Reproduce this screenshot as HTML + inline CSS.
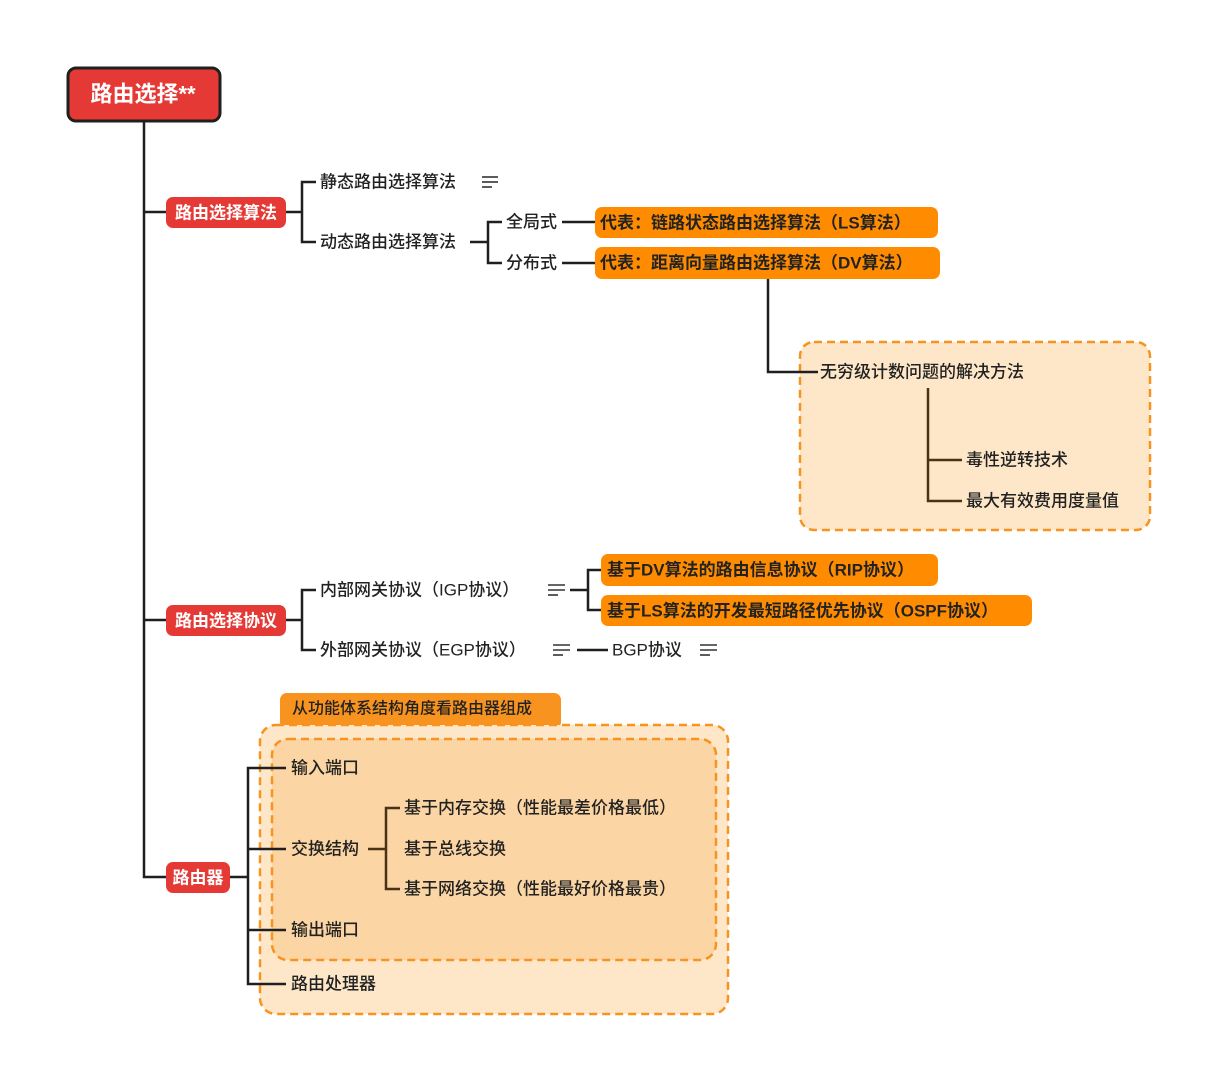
<!DOCTYPE html>
<html><head><meta charset="utf-8"><style>
html,body{margin:0;padding:0;background:#fff;}
svg{display:block;}
text{font-family:"Liberation Sans","Noto Sans CJK SC",sans-serif;font-size:17px;dominant-baseline:central;fill:#222;font-weight:500;}
.w{fill:#fff;font-weight:bold;}
.b{font-weight:bold;}
.ln{stroke:#1f1f1f;stroke-width:2.5;fill:none;}
.br{stroke:#4a3214;stroke-width:2.5;fill:none;}
.ic{stroke:#333;stroke-width:1.6;}
</style></head><body>
<svg width="1215" height="1080" viewBox="0 0 1215 1080" xmlns="http://www.w3.org/2000/svg">
<!-- boxes background -->
<rect x="800" y="342" width="350" height="188" rx="14" fill="#FDE7C8" stroke="#F7931E" stroke-width="2.5" stroke-dasharray="8,5"/>
<rect x="280" y="693" width="281" height="36" rx="7" fill="#F7931E"/>
<text x="292" y="709" style="font-size:16px">从功能体系结构角度看路由器组成</text>
<rect x="260" y="725" width="468" height="289" rx="16" fill="#FDE7C8" stroke="#F7931E" stroke-width="2.5" stroke-dasharray="8,5"/>
<rect x="272" y="739" width="444" height="221" rx="16" fill="#FBD5A3" stroke="#F7931E" stroke-width="2.5" stroke-dasharray="8,5"/>

<!-- trunk -->
<path class="ln" d="M144 121 V877 H166 M144 212 H166 M144 620 H166"/>
<!-- algo branch -->
<path class="ln" d="M286 212 H302 M316 182 H302 V242 H316"/>
<path class="ln" d="M470 242 H488 M502 222 H488 V263 H502"/>
<path class="ln" d="M562 222 H596 M562 263 H596"/>
<path class="ln" d="M768 279 V372 H818"/>
<path class="br" d="M928 388 V501 H962 M928 460 H962"/>
<!-- protocol branch -->
<path class="ln" d="M286 620 H302 M316 590 H302 V650 H316"/>
<path class="ln" d="M570 590 H588 M601 570 H588 V610 H601"/>
<path class="ln" d="M577 650 H608"/>
<!-- router branch -->
<path class="ln" d="M230 877 H248 M286 768 H248 V984 H286 M248 849 H286 M248 930 H286"/>
<path class="br" d="M368 849 H386 M400 808 H386 V889 H400"/>

<!-- root -->
<rect x="68" y="68" width="152" height="53" rx="8" fill="#E53935" stroke="#1f1f1f" stroke-width="3"/>
<text x="143" y="94" class="w" text-anchor="middle" style="font-size:22px">路由选择**</text>

<rect x="166" y="197" width="120" height="31" rx="7" fill="#E53935"/>
<text x="226" y="213" class="w" text-anchor="middle">路由选择算法</text>
<rect x="166" y="605" width="120" height="31" rx="7" fill="#E53935"/>
<text x="226" y="621" class="w" text-anchor="middle">路由选择协议</text>
<rect x="166" y="862" width="64" height="31" rx="7" fill="#E53935"/>
<text x="198" y="878" class="w" text-anchor="middle">路由器</text>

<text x="320" y="182">静态路由选择算法</text>
<g class="ic"><line x1="482" y1="177" x2="498" y2="177"/><line x1="482" y1="182" x2="498" y2="182"/><line x1="482" y1="187" x2="492" y2="187"/></g>
<text x="320" y="242">动态路由选择算法</text>
<text x="506" y="222">全局式</text>
<text x="506" y="263">分布式</text>
<rect x="595" y="207" width="343" height="31" rx="7" fill="#FF8C00"/>
<text x="600" y="223" class="b">代表：链路状态路由选择算法（LS算法）</text>
<rect x="595" y="247" width="345" height="32" rx="7" fill="#FF8C00"/>
<text x="600" y="263" class="b">代表：距离向量路由选择算法（DV算法）</text>
<text x="820" y="372">无穷级计数问题的解决方法</text>
<text x="966" y="460">毒性逆转技术</text>
<text x="966" y="501">最大有效费用度量值</text>

<text x="320" y="590">内部网关协议（IGP协议）</text>
<g class="ic"><line x1="548" y1="585" x2="565" y2="585"/><line x1="548" y1="590" x2="565" y2="590"/><line x1="548" y1="595" x2="558" y2="595"/></g>
<rect x="601" y="554" width="337" height="32" rx="7" fill="#FF8C00"/>
<text x="607" y="570" class="b">基于DV算法的路由信息协议（RIP协议）</text>
<rect x="601" y="595" width="431" height="31" rx="7" fill="#FF8C00"/>
<text x="607" y="611" class="b">基于LS算法的开发最短路径优先协议（OSPF协议）</text>
<text x="320" y="650">外部网关协议（EGP协议）</text>
<g class="ic"><line x1="553" y1="645" x2="570" y2="645"/><line x1="553" y1="650" x2="570" y2="650"/><line x1="553" y1="655" x2="563" y2="655"/></g>
<text x="612" y="650">BGP协议</text>
<g class="ic"><line x1="700" y1="645" x2="717" y2="645"/><line x1="700" y1="650" x2="717" y2="650"/><line x1="700" y1="655" x2="710" y2="655"/></g>

<text x="291" y="768">输入端口</text>
<text x="291" y="849">交换结构</text>
<text x="404" y="808">基于内存交换（性能最差价格最低）</text>
<text x="404" y="849">基于总线交换</text>
<text x="404" y="889">基于网络交换（性能最好价格最贵）</text>
<text x="291" y="930">输出端口</text>
<text x="291" y="984">路由处理器</text>
</svg>
</body></html>
